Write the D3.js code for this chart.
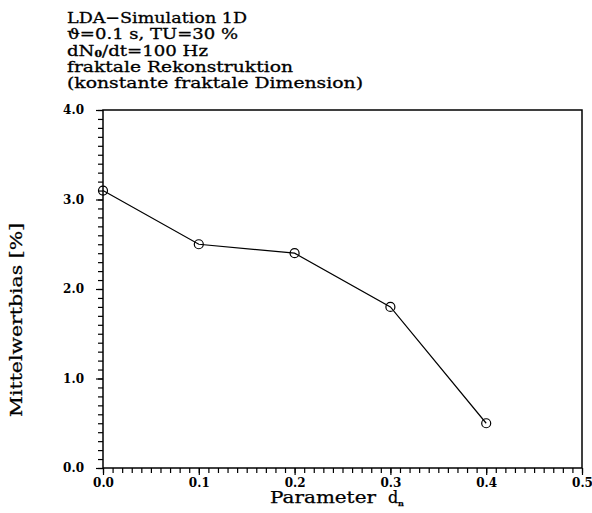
<!DOCTYPE html>
<html>
<head>
<meta charset="utf-8">
<script src="https://cdn.jsdelivr.net/npm/d3@7"></script>
<style>
  html, body { margin: 0; padding: 0; background: #fff; }
  svg { display: block; }
  text { font-family: "DejaVu Serif", "Liberation Serif", serif; fill: #000; }
</style>
</head>
<body>
<svg id="chart" width="592" height="513"></svg>
<script>
// Mean bias of the fractal reconstruction versus parameter d_n
const paramD = [0.0, 0.1, 0.2, 0.3, 0.4];
const meanBias = [3.1, 2.5, 2.4, 1.8, 0.5];
const xMajorTicks = [0.0, 0.1, 0.2, 0.3, 0.4, 0.5];
const yMajorTicks = [0.0, 1.0, 2.0, 3.0, 4.0];
const titleLines = [
  "LDA\u2212Simulation 1D",
  "\u03d1=0.1 s, TU=30 %",
  "dN|0|/dt=100 Hz",
  "fraktale Rekonstruktion",
  "(konstante fraktale Dimension)"
];

const svg = d3.select("#chart");
const plotLeft = 103, plotRight = 582, plotTop = 110, plotBottom = 468;

const x = d3.scaleLinear().domain([0, 0.5]).range([plotLeft, plotRight]);
const y = d3.scaleLinear().domain([0, 4]).range([plotBottom, plotTop]);

// title block
const titleWidths = [180, 171, 141, 226, 296];
const title = svg.append("g").attr("font-size", 15)
  .attr("stroke", "#000").attr("stroke-width", 0.3);
titleLines.forEach((line, i) => {
  const t = title.append("text")
    .attr("x", 67)
    .attr("y", 23 + i * 16.3)
    .attr("textLength", titleWidths[i])
    .attr("lengthAdjust", "spacingAndGlyphs")
    .attr("xml:space", "preserve");
  const parts = line.split("|");
  parts.forEach((p, j) => {
    if (j % 2 === 1) {
      t.append("tspan").attr("font-size", 9).attr("font-weight", "bold").attr("dy", 1.5).text(p);
    } else {
      t.append("tspan").attr("dy", j > 0 ? -1.5 : 0).text(p);
    }
  });
});

// minor ticks
const xMinor = d3.axisBottom(x).tickValues(d3.range(0, 0.5001, 0.01)).tickSize(5).tickFormat("");
const yMinor = d3.axisLeft(y).tickValues(d3.range(0, 4.0001, 0.1)).tickSize(5).tickFormat("");
svg.append("g").attr("transform", `translate(0,${plotBottom})`).call(xMinor)
  .call(g => g.select(".domain").remove());
svg.append("g").attr("transform", `translate(${plotLeft},0)`).call(yMinor)
  .call(g => g.select(".domain").remove());

// major ticks with labels
const xMajor = d3.axisBottom(x).tickValues(xMajorTicks).tickSize(7).tickPadding(3)
  .tickFormat(d3.format(".1f"));
const yMajor = d3.axisLeft(y).tickValues(yMajorTicks).tickSize(7).tickPadding(12)
  .tickFormat(d3.format(".1f"));
const gx = svg.append("g").attr("transform", `translate(0,${plotBottom})`).call(xMajor);
const gy = svg.append("g").attr("transform", `translate(${plotLeft},0)`).call(yMajor);
[gx, gy].forEach(g => {
  g.select(".domain").remove();
  g.selectAll("text").attr("font-family", "\"Liberation Sans\", Arial, sans-serif")
    .attr("font-size", 12).attr("font-weight", "bold").attr("fill", "#000");
});
svg.selectAll(".tick line").attr("stroke", "#000").attr("stroke-width", 1.2);

// frame
svg.append("rect")
  .attr("x", plotLeft).attr("y", plotTop)
  .attr("width", plotRight - plotLeft).attr("height", plotBottom - plotTop)
  .attr("fill", "none").attr("stroke", "#000").attr("stroke-width", 1.5);

// axis titles
const axisTitles = svg.append("g").attr("stroke", "#000").attr("stroke-width", 0.25);
axisTitles.append("text")
  .attr("x", 270).attr("y", 503)
  .attr("font-size", 16)
  .attr("textLength", 106).attr("lengthAdjust", "spacingAndGlyphs")
  .text("Parameter");
axisTitles.append("text")
  .attr("x", 388).attr("y", 503)
  .attr("font-size", 16)
  .text("d");
axisTitles.append("text")
  .attr("x", 398).attr("y", 506)
  .attr("font-size", 8).attr("font-weight", "bold")
  .text("n");

axisTitles.append("text")
  .attr("transform", `translate(22,${(223 + 417) / 2}) rotate(-90)`)
  .attr("text-anchor", "middle")
  .attr("font-family", "\"Liberation Mono\", \"DejaVu Sans Mono\", monospace")
  .attr("font-size", 16)
  .attr("textLength", 194).attr("lengthAdjust", "spacingAndGlyphs")
  .text("Mittelwertbias [%]");

// data line and markers
const pts = paramD.map((d, i) => [d, meanBias[i]]);
svg.append("path")
  .datum(pts)
  .attr("fill", "none").attr("stroke", "#000").attr("stroke-width", 1.2)
  .attr("d", d3.line().x(d => x(d[0])).y(d => y(d[1])));
svg.append("g").selectAll("circle").data(pts).join("circle")
  .attr("cx", d => x(d[0])).attr("cy", d => y(d[1]))
  .attr("r", 4.5)
  .attr("fill", "none").attr("stroke", "#000").attr("stroke-width", 1.2);
</script>
</body>
</html>
